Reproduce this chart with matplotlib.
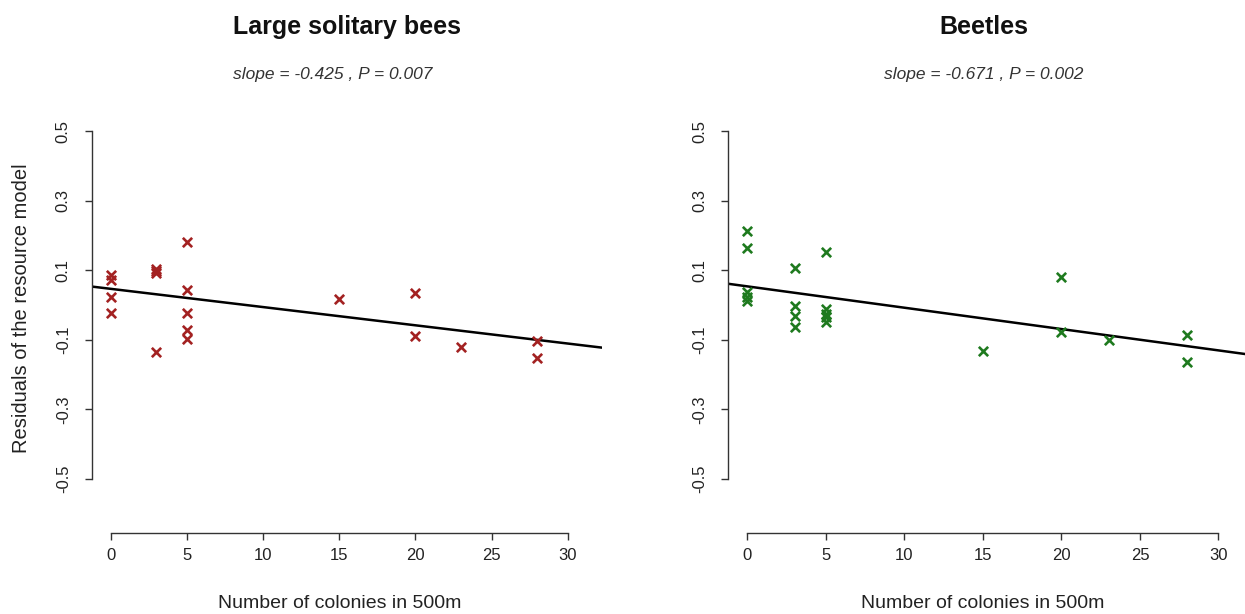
import numpy as np
import matplotlib
matplotlib.use('Agg')
import matplotlib.pyplot as plt

plt.rcParams['font.family'] = ['Liberation Sans', 'DejaVu Sans']

# --- data ---
bees_x = [0, 0, 0, 0, 3, 3, 3, 3, 5, 5, 5, 5, 5, 15, 20, 20, 23, 28, 28]
bees_y = [0.086, 0.072, 0.024, -0.022, 0.104, 0.098, 0.092, -0.134,
          0.182, 0.043, -0.024, -0.072, -0.098, 0.016, 0.035, -0.088,
          -0.122, -0.103, -0.151]
bees_fit = (0.0467, -0.00525)   # intercept, slope per colony

beetles_x = [0, 0, 0, 0, 0, 3, 3, 3, 3, 5, 5, 5, 5, 5, 15, 20, 20, 23, 28, 28]
beetles_y = [0.214, 0.163, 0.038, 0.024, 0.013, 0.106, -0.002, -0.031, -0.064,
             0.154, -0.010, -0.025, -0.035, -0.050, -0.132, 0.080, -0.079,
             -0.100, -0.086, -0.163]
beetles_fit = (0.0537, -0.00614)

titles = ["Large solitary bees", "Beetles"]
subtitles = ["slope = -0.425 , P = 0.007", "slope = -0.671 , P = 0.002"]
xticks = [0, 5, 10, 15, 20, 25, 30]
yticks = [-0.5, -0.3, -0.1, 0.1, 0.3, 0.5]
xlabel = "Number of colonies in 500m"
ylabel = "Residuals of the resource model"

W, H = 1245, 614
fig = plt.figure(figsize=(W / 100, H / 100), dpi=100)

panels = [
    dict(x=bees_x, y=bees_y, fit=bees_fit, color='#a32222',
         rect=[91.7 / W, (H - 533) / H, 510.3 / W, 443.4 / H],
         title_x=347, sub_x=333, xlab_x=340),
    dict(x=beetles_x, y=beetles_y, fit=beetles_fit, color='#1f7a1f',
         rect=[728 / W, (H - 533) / H, 525.6 / W, 443.4 / H],
         title_x=984, sub_x=984, xlab_x=983),
]

for i, p in enumerate(panels):
    ax = fig.add_axes(p['rect'])
    ax.set_xlim(-1.24, 32.24)
    ax.set_ylim(-0.656, 0.62)

    ax.scatter(p['x'], p['y'], marker='x', s=45, linewidths=1.9,
               color=p['color'], zorder=3)

    b0, b1 = p['fit']
    xs = np.array(ax.get_xlim())
    ax.plot(xs, b0 + b1 * xs, color='black', lw=1.8, zorder=2)

    # R-style detached axes
    for s in ['top', 'right']:
        ax.spines[s].set_visible(False)
    for s in ['left', 'bottom']:
        ax.spines[s].set_color('#333333')
        ax.spines[s].set_linewidth(1.0)
    ax.spines['left'].set_bounds(-0.5, 0.5)
    ax.spines['bottom'].set_bounds(0, 30)

    ax.set_xticks(xticks)
    ax.set_xticklabels([str(t) for t in xticks])
    ax.set_yticks(yticks)
    ax.set_yticklabels([f"{t:g}" for t in yticks], rotation=90, va='center')
    ax.tick_params(axis='both', direction='out', length=5, width=1.0,
                   color='#333333', labelcolor='#222222', labelsize=12)
    ax.tick_params(axis='x', pad=6)
    ax.tick_params(axis='y', pad=10)

    fig.text(p['title_x'] / W, 1 - 27 / H, titles[i], ha='center', va='center',
             fontsize=18, fontweight='bold', color='#111111')
    fig.text(p['sub_x'] / W, 1 - 74 / H, subtitles[i], ha='center', va='center',
             fontsize=12.5, style='italic', color='#333333')
    fig.text(p['xlab_x'] / W, 1 - 603 / H, xlabel, ha='center', va='center',
             fontsize=14, color='#222222')

fig.text(22 / W, 1 - 308 / H, ylabel, rotation=90, ha='center', va='center',
         fontsize=14.5, color='#222222')

fig.savefig('out.png', dpi=100)
